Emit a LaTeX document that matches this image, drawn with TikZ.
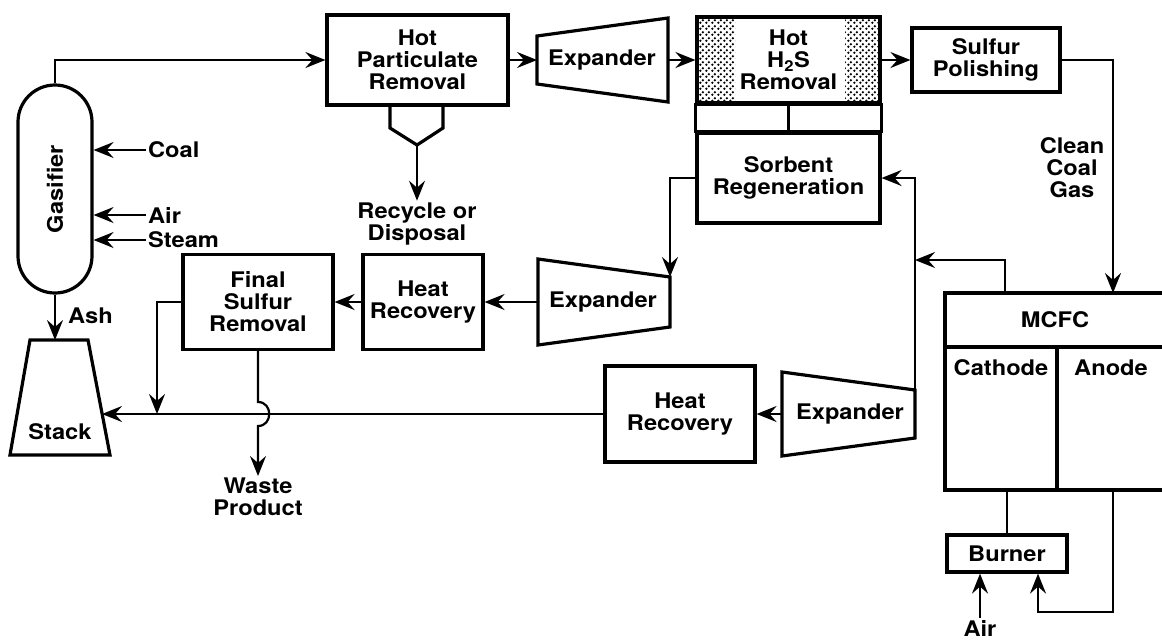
\documentclass[tikz,border=0pt]{standalone}
\usepackage{fontspec}
\setmainfont[FakeStretch=1.1]{TeX Gyre Heros}
\usetikzlibrary{positioning,arrows.meta,patterns.meta}

\tikzdeclarepattern{
  name=stipple,
  type=uncolored,
  bottom left={(0pt,0pt)},
  top right={(5.5pt,5.5pt)},
  tile size={(5.5pt,5.5pt)},
  code={
    \pgfpathcircle{\pgfpoint{1.375pt}{1.375pt}}{1.35pt}
    \pgfpathcircle{\pgfpoint{4.125pt}{4.125pt}}{1.35pt}
    \pgfusepath{fill}
  }
}

\begin{document}
\begin{tikzpicture}[x=1pt, y=-1pt, line width=2.2pt,
    font=\fontsize{21.5}{22}\selectfont\bfseries,
    flow/.style={-{Stealth[length=20pt,width=16pt,inset=7pt]}},
    unit/.style={draw, line width=3.2pt, align=center, inner sep=0pt},
    vessel/.style={line width=3.2pt, line join=miter},
    lbl/.style={align=center, inner sep=1pt}]
  \useasboundingbox (0,0) rectangle (1162,641);
  % gasifier and stack
  \node[unit, rounded corners=37pt, minimum width=74pt, minimum height=208pt] (gas) at (55,189) {\rotatebox{90}{Gasifier}};
  \draw[vessel] (30,340) -- (88,340) -- (110,455) -- (10,455) -- cycle;
  \node[lbl] (stack) at (60,432) {Stack};
  \coordinate (stktop) at (55,340);
  \coordinate (stkin) at (102,414);
  \node[lbl, anchor=west] (coal) at (146,150) {Coal};
  \node[lbl, anchor=west] (air) at (146,215) {Air};
  \node[lbl, anchor=west] (steam) at (146,240) {Steam};
  \node[lbl, anchor=west] (ash) at (66,316) {Ash};
  % hot gas cleanup line
  \node[unit, minimum width=181pt, minimum height=90pt] (hpr) at (417.5,60) {Hot\\Particulate\\Removal};
  \draw[vessel] (390,105) -- (390,128) -- (417,145) -- (443,128) -- (443,105);
  \coordinate (hop) at (417,145);
  \node[lbl] (rec) at (417,224) {Recycle or\\Disposal};
  \draw[vessel] (537,36) -- (668,18) -- (668,102) -- (537,84) -- cycle;
  \node[lbl] (exp1) at (602,60) {Expander};
  \coordinate (e1w) at (537,60);
  \coordinate (e1e) at (668,60);
  \fill[pattern=stipple] (697,17) rectangle (735,103);
  \fill[pattern=stipple] (845,17) rectangle (880,103);
  \node[unit, minimum width=183pt, minimum height=86pt] (hts) at (788.5,60) {Hot\\H\textsubscript{2}S\\Removal};
  \node[unit, minimum width=183pt, minimum height=90pt] (sor) at (788.5,178) {Sorbent\\Regeneration};
  \draw[vessel] (hts.south west) rectangle (sor.north east);
  \draw[vessel] (hts.south) -- (sor.north);
  \node[unit, minimum width=148pt, minimum height=64pt] (sp) at (986,60) {Sulfur\\Polishing};
  \node[lbl] (ccg) at (1072,168) {Clean\\Coal\\Gas};
  % regeneration gas train
  \draw[vessel] (538,259) -- (670,277) -- (670,327) -- (538,345) -- cycle;
  \node[lbl] (exp2) at (603,302) {Expander};
  \coordinate (e2w) at (538,302);
  \coordinate (e2ne) at (670,277);
  \node[unit, minimum width=120pt, minimum height=95pt] (hr1) at (423,302) {Heat\\Recovery};
  \node[unit, minimum width=150pt, minimum height=95pt] (fsr) at (258,302) {Final\\Sulfur\\Removal};
  \coordinate (tee) at (157,414);
  \coordinate (hopa) at (258,402);
  \coordinate (hopb) at (258,426);
  \node[lbl, anchor=north] (waste) at (258,476) {Waste\\Product};
  % cathode exhaust train
  \draw[vessel] (782,372) -- (915,390) -- (915,438) -- (782,456) -- cycle;
  \node[lbl] (exp3) at (850,414) {Expander};
  \coordinate (e3w) at (782,414);
  \coordinate (e3ne) at (915,390);
  \node[unit, minimum width=150pt, minimum height=96pt] (hr2) at (680,414) {Heat\\Recovery};
  % fuel cell
  \draw[vessel] (1166,293) -- (945,293) -- (945,490) -- (1166,490) -- cycle;
  \draw[vessel] (945,347) -- (1166,347);
  \draw[vessel] (1057,347) -- (1057,490);
  \node[lbl] (mcfc) at (1055,320) {MCFC};
  \node[lbl] (cath) at (1001,368) {Cathode};
  \node[lbl] (anod) at (1111,368) {Anode};
  \coordinate (anin) at (1113,293);
  \coordinate (catout) at (1005,293);
  \coordinate (jn) at (915,260);
  \coordinate (catbot) at (1007,490);
  \coordinate (anbot) at (1113,490);
  \coordinate (bturn) at (1038,612);
  \node[unit, minimum width=120pt, minimum height=37pt] (burner) at (1007,553.5) {Burner};
  \node[lbl] (airb) at (980,628) {Air};
  % connectors
  \draw[flow] (gas.north) |- (hpr.west);
  \draw[flow] (coal.west) -- (coal.west -| gas.east);
  \draw[flow] (air.west) -- (air.west -| gas.east);
  \draw[flow] (steam.west) -- (steam.west -| gas.east);
  \draw[flow] (gas.south) -- (stktop);
  \draw[flow] (hop) -- (rec.north);
  \draw[flow] (hpr.east) -- (e1w);
  \draw[flow] (e1e) -- (hts.west);
  \draw[flow] (hts.east) -- (sp.west);
  \draw[flow] (sp.east) -| (anin);
  \draw[flow] (sor.west) -| (e2ne);
  \draw[flow] (e2w) -- (hr1.east);
  \draw[flow] (hr1.west) -- (fsr.east);
  \draw[flow] (fsr.west) -| (tee);
  \draw[flow] (fsr.south) -- (hopa) .. controls (273,402) and (273,426) .. (hopb) -- (waste.north);
  \draw[flow] (e3w) -- (hr2.east);
  \draw[flow] (hr2.west) -- (stkin);
  \draw[flow] (e3ne) |- (sor.east);
  \draw[flow] (catout) |- (jn);
  \draw (catbot) -- (burner.north);
  \draw[flow] (anbot) |- (bturn) -- (burner.south -| bturn);
  \draw[flow] (airb.north) -- (airb.north |- burner.south);
\end{tikzpicture}
\end{document}
